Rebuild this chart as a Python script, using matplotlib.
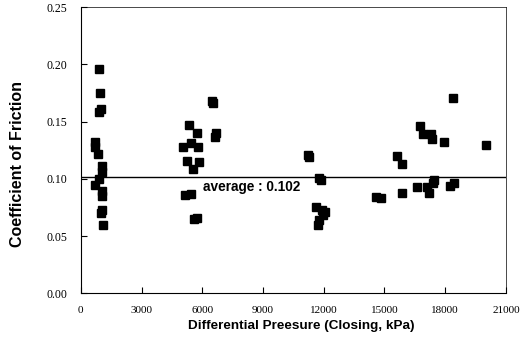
import matplotlib
matplotlib.use("Agg")
import matplotlib.pyplot as plt

# Differential pressure (kPa) and coefficient of friction
pressure = [900, 950, 1000, 900, 700, 720, 850, 1050, 1050, 900, 690, 1020, 1020, 1020, 980, 1070,
            5356, 5722, 6677, 6620, 6500, 6550, 5059, 5425, 5801, 5227, 5850, 5524, 5143, 5425, 5600, 5750,
            11200, 11280, 11780, 11850, 11600, 11900, 12050, 11950, 11750, 11700,
            14600, 14850, 15600, 15880, 15860, 16600, 16750, 16910, 17320, 17370, 17950, 20000,
            17080, 17210, 17400, 17450, 18250, 18430, 18400]
friction = [0.196, 0.175, 0.161, 0.158, 0.132, 0.128, 0.122, 0.111, 0.106, 0.100, 0.095, 0.089, 0.085, 0.073, 0.070, 0.060,
            0.147, 0.140, 0.140, 0.137, 0.168, 0.166, 0.128, 0.131, 0.128, 0.116, 0.115, 0.109, 0.086, 0.087, 0.065, 0.066,
            0.121, 0.119, 0.101, 0.099, 0.075, 0.073, 0.071, 0.068, 0.064, 0.060,
            0.084, 0.083, 0.120, 0.113, 0.088, 0.093, 0.146, 0.139, 0.139, 0.135, 0.132, 0.130,
            0.093, 0.088, 0.096, 0.099, 0.094, 0.096, 0.171]
average = 0.102
xticks = [0, 3000, 6000, 9000, 12000, 15000, 18000, 21000]
yticks = [0.00, 0.05, 0.10, 0.15, 0.20, 0.25]

fig = plt.figure(figsize=(5.32, 3.45), dpi=100)
ax = fig.add_axes([0.152, 0.150, 0.799, 0.829])

ax.plot(pressure, friction, linestyle='none', marker='s', markersize=5.8, color='black')
ax.axhline(average, color='black', linewidth=1.0)
ax.text(6030, 0.093, 'average : %.3f' % average, fontsize=9.8, fontweight='bold',
        family='Liberation Sans', va='center', ha='left')

ax.set_xlim(0, 21000)
ax.set_ylim(0, 0.25)
ax.set_xticks(xticks)
ax.set_xticklabels([str(v) for v in xticks], family='Liberation Serif', fontsize=8)
ax.set_yticks(yticks)
ax.set_yticklabels(['%.2f' % v for v in yticks], family='Liberation Serif', fontsize=8.5)
ax.tick_params(direction='in', length=4, width=0.8, pad=9)
ax.tick_params(axis='y', pad=10)
for s in ax.spines.values():
    s.set_linewidth(0.8)
ax.spines['top'].set_linewidth(0.5)
ax.spines['right'].set_linewidth(0.5)

ax.set_xlabel('Differential Preesure (Closing, kPa)', fontsize=9.7, fontweight='bold',
              family='Liberation Sans')
ax.set_ylabel('Coefficient of Friction', fontsize=11.5, fontweight='bold',
              family='Liberation Sans')
ax.xaxis.set_label_coords(0.519, -0.095)
ax.yaxis.set_label_coords(-0.132, 0.452)

fig.savefig('out.png', dpi=100)
